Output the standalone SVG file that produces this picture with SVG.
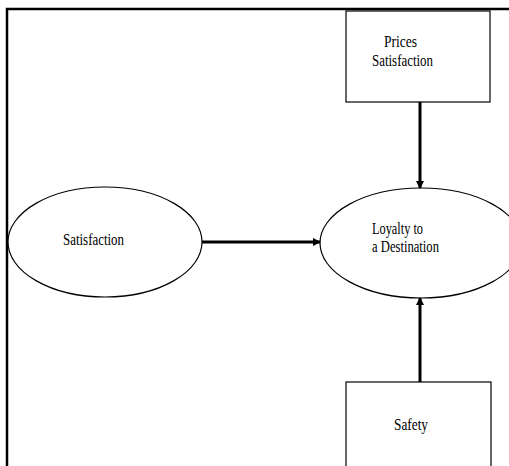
<svg xmlns="http://www.w3.org/2000/svg" width="509" height="466" viewBox="0 0 509 466">
<defs>
<style>
.n{fill:#fff;stroke:#000;stroke-width:1.2}
.t{font-family:"Liberation Serif","Times New Roman",serif;font-size:16px;fill:#000}
.c{stroke:#000;stroke-width:3;fill:none}
</style>
<marker id="ah" markerWidth="8" markerHeight="8" refX="7" refY="4" orient="auto" markerUnits="userSpaceOnUse">
<path d="M0,0 L8,4 L0,8 Z" fill="#000"/>
</marker>
</defs>
<rect width="509" height="466" fill="#fff"/>
<path d="M7,466 L7,9 L509,9" stroke="#000" stroke-width="2.5" fill="none"/>
<g id="prices">
<rect class="n" x="346" y="11" width="144" height="91"/>
<text class="t" x="384" y="47" textLength="33" lengthAdjust="spacingAndGlyphs">Prices</text>
<text class="t" x="372" y="66" textLength="61" lengthAdjust="spacingAndGlyphs">Satisfaction</text>
</g>
<g id="satisfaction">
<ellipse class="n" cx="105" cy="242" rx="97" ry="55"/>
<text class="t" x="63" y="245" textLength="61" lengthAdjust="spacingAndGlyphs">Satisfaction</text>
</g>
<g id="loyalty">
<ellipse class="n" cx="421" cy="243" rx="101" ry="55"/>
<text class="t" x="372" y="234" textLength="51" lengthAdjust="spacingAndGlyphs">Loyalty to</text>
<text class="t" x="372" y="252" textLength="67" lengthAdjust="spacingAndGlyphs">a Destination</text>
</g>
<g id="safety">
<rect class="n" x="346" y="382" width="145" height="90"/>
<text class="t" x="394" y="430" textLength="34" lengthAdjust="spacingAndGlyphs">Safety</text>
</g>
<g id="connectors">
<line class="c" x1="420" y1="102" x2="420" y2="188" marker-end="url(#ah)"/>
<line class="c" x1="202" y1="242" x2="320" y2="242" marker-end="url(#ah)"/>
<line class="c" x1="420" y1="382" x2="420" y2="298" marker-end="url(#ah)"/>
</g>
</svg>
